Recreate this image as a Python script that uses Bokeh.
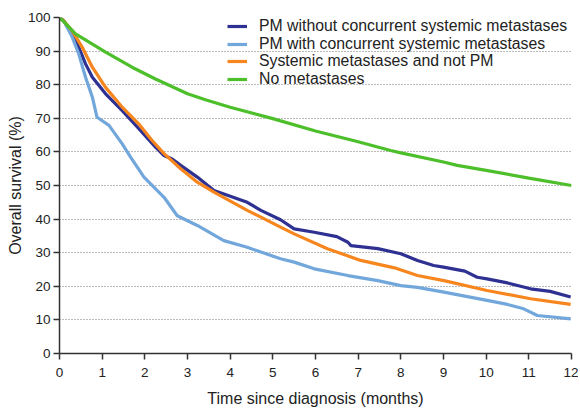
from bokeh.plotting import figure
from bokeh.models import Range1d, FixedTicker, Legend, LegendItem
from bokeh.embed import file_html
from bokeh.resources import INLINE

# ---- data ----
t_pm_without = [0, 0.1, 0.22, 0.45, 0.61, 0.77, 1.08, 1.47, 1.86, 2.25, 2.45, 2.64, 2.84, 3.23, 3.62, 4.4,
                4.72, 5.18, 5.5, 5.97, 6.5, 6.76, 6.83, 7.46, 8.0, 8.39, 8.77, 9.0, 9.5, 9.79, 10.02, 10.5,
                11.04, 11.5, 11.98]
v_pm_without = [100, 99, 96.6, 91.2, 86.2, 82.2, 77.3, 72.3, 66.9, 61.4, 58.9, 57.9, 56, 52.5, 48.5, 45,
                42.6, 39.8, 37.1, 36.1, 34.8, 33.1, 32.1, 31.2, 29.7, 27.7, 26.2, 25.7, 24.5, 22.7, 22.2, 21,
                19.25, 18.5, 16.8]

t_pm_with = [0, 0.1, 0.3, 0.45, 0.61, 0.77, 0.88, 1.16, 1.47, 1.67, 1.98, 2.45, 2.76, 3.23, 3.85, 4.4, 4.72,
             5.18, 5.5, 5.97, 6.76, 7.46, 8.0, 8.39, 9.01, 10.02, 10.5, 10.88, 11.2, 11.98]
v_pm_with = [100, 99, 94.1, 89.2, 82.2, 76.3, 70.3, 67.9, 62.4, 58.4, 52.5, 46.5, 41, 38.1, 33.6, 31.6, 30.2,
             28.2, 27.2, 25.2, 23.2, 21.7, 20.2, 19.7, 18.25, 15.8, 14.6, 13.3, 11.3, 10.3]

t_systemic = [0, 0.1, 0.3, 0.53, 0.77, 1.08, 1.47, 1.86, 2.17, 2.45, 2.84, 3.23, 3.62, 4.4, 4.72, 5.18, 5.5,
              6.28, 7.06, 7.85, 8.39, 9.01, 10.02, 11.04, 11.98]
v_systemic = [100, 99, 96, 91.2, 85.2, 79.2, 73.3, 68.3, 63.4, 59.5, 55, 51, 48, 42.6, 40.6, 37.6, 35.6,
              31.2, 27.7, 25.5, 23.2, 21.7, 18.75, 16.3, 14.6]

t_no_mets = [0, 0.1, 0.375, 1.08, 1.7, 2.25, 3.0, 3.42, 4.0, 5.0, 6.0, 7.0, 7.76, 8.0, 9.0, 9.32, 10.0, 11.0, 12.0]
v_no_mets = [100, 98.8, 95.1, 89.7, 85.2, 81.7, 77.3, 75.5, 73.3, 69.9, 66.2, 63, 60.4, 59.7, 57, 56, 54.5, 52.2, 50]

series_labels = ["PM without concurrent systemic metastases",
                 "PM with concurrent systemic metastases",
                 "Systemic metastases and not PM",
                 "No metastases"]
series_colors = ["#2E3192", "#72A7DC", "#F7861E", "#4CBF2A"]

x_ticks = list(range(0, 13))
y_ticks = list(range(0, 101, 10))
grid_ticks = list(range(10, 100, 10))

FONT = "Liberation Sans"

p = figure(width=578, height=410, output_backend="svg", toolbar_location=None,
           x_range=Range1d(0, 12), y_range=Range1d(0, 100),
           min_border_left=59, min_border_right=7, min_border_top=17, min_border_bottom=57)
p.outline_line_color = None
p.background_fill_color = "white"

# grid
p.xgrid.grid_line_color = None
p.ygrid.ticker = FixedTicker(ticks=grid_ticks)
p.ygrid.grid_line_color = "#777777"
p.ygrid.grid_line_dash = "1 2"
p.ygrid.grid_line_width = 1

# axes
for ax in (p.xaxis[0], p.yaxis[0]):
    ax.axis_line_color = "#333333"
    ax.axis_line_width = 1.5
    ax.major_tick_line_color = "#333333"
    ax.major_tick_line_width = 1.5
    ax.major_tick_out = 6
    ax.major_tick_in = 0
    ax.minor_tick_line_color = None
    ax.major_label_text_font = FONT
    ax.major_label_text_font_size = "13.5px"
    ax.major_label_text_color = "#222222"
    ax.axis_label_text_font = FONT
    ax.axis_label_text_font_size = "16px"
    ax.axis_label_text_font_style = "normal"
    ax.axis_label_text_color = "#222222"

p.xaxis.ticker = FixedTicker(ticks=x_ticks)
p.yaxis.ticker = FixedTicker(ticks=y_ticks)
p.xaxis.axis_label = "Time since diagnosis (months)"
p.yaxis.axis_label = "Overall survival (%)"
p.xaxis.major_label_standoff = 8
p.yaxis.major_label_standoff = 3
p.xaxis.axis_label_standoff = 10
p.yaxis.axis_label_standoff = 1

# curves
data = [(t_pm_without, v_pm_without), (t_pm_with, v_pm_with),
        (t_systemic, v_systemic), (t_no_mets, v_no_mets)]
renderers = []
for (t, v), c in zip(data, series_colors):
    r = p.line(t, v, line_color=c, line_width=3.2)
    renderers.append(r)

# one legend per row, so the rows can sit as tightly as in the reference
row_bottoms = [318, 300, 283, 265]
for lab, r, yb in zip(series_labels, renderers, row_bottoms):
    lg = Legend(items=[LegendItem(label=lab, renderers=[r])], location=(168, yb))
    lg.background_fill_alpha = 0
    lg.border_line_alpha = 0
    lg.label_text_font = FONT
    lg.label_text_font_size = "15.8px"
    lg.label_text_color = "#222222"
    lg.glyph_width = 20
    lg.glyph_height = 18
    lg.label_height = 18
    lg.label_standoff = 12
    lg.spacing = 0
    lg.padding = 0
    lg.margin = 0
    p.add_layout(lg)

open("out.html", "w").write(file_html(p, INLINE))
